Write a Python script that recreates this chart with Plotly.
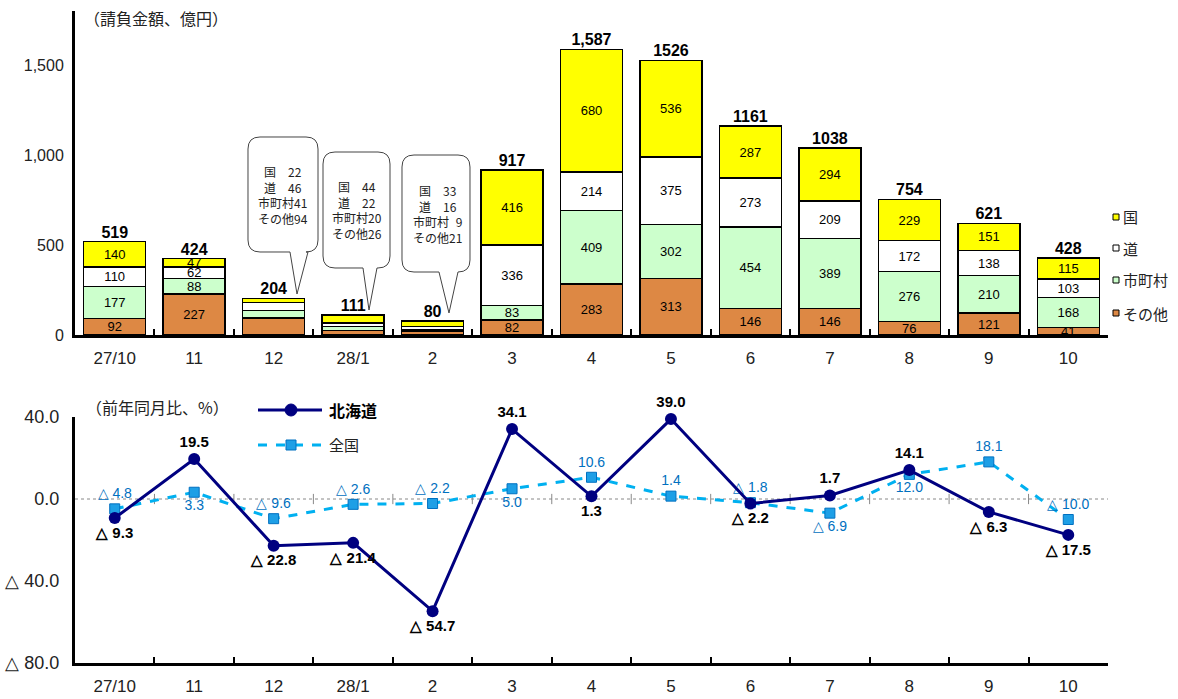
import plotly.graph_objects as go

# ---------------- data ----------------
months = ["27/10", "11", "12", "28/1", "2", "3", "4", "5", "6", "7", "8", "9", "10"]
sonota = [92, 227, 94, 26, 21, 82, 283, 313, 146, 146, 76, 121, 41]
shichoson = [177, 88, 41, 20, 9, 83, 409, 302, 454, 389, 276, 210, 168]
do_ = [110, 62, 46, 22, 16, 336, 214, 375, 273, 209, 172, 138, 103]
kuni = [140, 47, 22, 44, 33, 416, 680, 536, 287, 294, 229, 151, 115]
totals = [519, 424, 204, 111, 80, 917, 1587, 1526, 1161, 1038, 754, 621, 428]
total_labels = ["519", "424", "204", "111", "80", "917", "1,587", "1526", "1161",
                "1038", "754", "621", "428"]
callout_months = [2, 3, 4]  # small bars whose breakdown is shown in a callout

hokkaido = [-9.3, 19.5, -22.8, -21.4, -54.7, 34.1, 1.3, 39.0, -2.2, 1.7, 14.1, -6.3, -17.5]
zenkoku = [-4.8, 3.3, -9.6, -2.6, -2.2, 5.0, 10.6, 1.4, -1.8, -6.9, 12.0, 18.1, -10.0]
hk_pos = ["bottom center", "top center", "bottom center", "bottom center", "bottom center",
          "top center", "bottom center", "top center", "bottom center", "top center",
          "top center", "bottom center", "bottom center"]
zk_pos = ["top center", "bottom center", "top center", "top center", "top center",
          "bottom center", "top center", "top center", "top center", "bottom center",
          "bottom center", "top center", "top center"]

top_ticks = [0, 500, 1000, 1500]
top_ticktext = ["0", "500", "1,000", "1,500"]
bot_ticks = [40, 0, -40, -80]
bot_ticktext = ["40.0", "0.0", "△ 40.0", "△ 80.0"]

# ---------------- style ----------------
W, H = 1178, 699
PX_L, PX_R, PY_T, PY_B = 75, 1108, 11, 663
JP = "Noto Sans CJK JP"
NARROW = "Liberation Sans Narrow, Arial Narrow, Liberation Sans, sans-serif"
SANS = "Liberation Sans, Arial, sans-serif"
C_SONOTA, C_SHI, C_DO, C_KUNI = "#DD8844", "#CCFFCC", "#FFFFFF", "#FFFF00"
C_HK, C_ZK_LINE, C_ZK_MK, C_ZK_TXT = "#000080", "#00B0F0", "#1E9FE6", "#0070C0"


def fx(px):
    return (px - PX_L) / (PX_R - PX_L)


def fy(py):
    return (PY_B - py) / (PY_B - PY_T)


def seg_text(vals):
    return ["" if i in callout_months else str(v) for i, v in enumerate(vals)]


def fmt(v):
    return f"△ {abs(v):.1f}" if v < 0 else f"{v:.1f}"


fig = go.Figure()
for name, vals, col in [("その他", sonota, C_SONOTA), ("市町村", shichoson, C_SHI),
                        ("道", do_, C_DO), ("国", kuni, C_KUNI)]:
    fig.add_trace(go.Bar(
        x=months, y=vals, name=name, width=0.78,
        marker=dict(color=col, line=dict(color="black", width=1.5)),
        text=seg_text(vals), textposition="inside", insidetextanchor="middle",
        textangle=0, textfont=dict(size=13, color="black", family=SANS),
        xaxis="x", yaxis="y", showlegend=False, hoverinfo="skip"))

fig.add_trace(go.Scatter(
    x=months, y=totals, mode="text", text=total_labels, textposition="top center",
    textfont=dict(size=16, color="black", family=SANS, weight="bold"),
    xaxis="x", yaxis="y", showlegend=False, cliponaxis=False, hoverinfo="skip"))

fig.add_trace(go.Scatter(
    x=months, y=zenkoku, mode="lines+markers+text", name="全国",
    line=dict(color=C_ZK_LINE, width=3, dash="dash"),
    marker=dict(symbol="square", size=10, color=C_ZK_MK, line=dict(color=C_ZK_TXT, width=1)),
    text=[fmt(v) for v in zenkoku], textposition=zk_pos,
    textfont=dict(size=14, color=C_ZK_TXT, family=SANS),
    xaxis="x2", yaxis="y2", showlegend=False, cliponaxis=False, hoverinfo="skip"))

fig.add_trace(go.Scatter(
    x=months, y=hokkaido, mode="lines+markers+text", name="北海道",
    line=dict(color=C_HK, width=3),
    marker=dict(symbol="circle", size=12, color=C_HK),
    text=[fmt(v) for v in hokkaido], textposition=hk_pos,
    textfont=dict(size=15, color="black", family=NARROW, weight="bold"),
    xaxis="x2", yaxis="y2", showlegend=False, cliponaxis=False, hoverinfo="skip"))

axis_common = dict(showgrid=False, zeroline=False, showline=True, linecolor="black",
                   linewidth=3, automargin=False)
fig.update_layout(
    width=W, height=H, autosize=False,
    margin=dict(l=PX_L, r=W - PX_R, t=PY_T, b=H - PY_B, autoexpand=False),
    paper_bgcolor="white", plot_bgcolor="white",
    barmode="stack", bargap=0.22,
    uniformtext=dict(minsize=13, mode="show"),
    xaxis=dict(domain=[0, 1], type="category", categoryarray=months, anchor="y",
               range=[-0.5, 12.5], ticks="inside", tickson="boundaries", ticklen=6,
               tickwidth=2, tickcolor="black", ticklabelstandoff=6,
               tickfont=dict(family=NARROW, size=17, color="#222"), **axis_common),
    yaxis=dict(domain=[fy(335), 1], range=[0, 1800], anchor="x", tickvals=top_ticks,
               ticktext=top_ticktext, ticks="", ticklabelstandoff=5,
               tickfont=dict(family=SANS, size=16, color="#222"), **axis_common),
    xaxis2=dict(domain=[0, 1], type="category", categoryarray=months, anchor="y2",
                range=[-0.5, 12.5], ticks="inside", tickson="boundaries", ticklen=6,
                tickwidth=2, tickcolor="black", ticklabelstandoff=6,
                tickfont=dict(family=NARROW, size=17, color="#222"), **axis_common),
    yaxis2=dict(domain=[0, fy(417)], range=[-80, 40], anchor="x2", tickvals=bot_ticks,
                ticktext=bot_ticktext, ticks="", ticklabelstandoff=9,
                tickfont=dict(family=NARROW, size=18, color="#222"), **axis_common),
)

shapes = []
annotations = []

# zero line with category boundary ticks (bottom chart)
shapes.append(dict(type="line", xref="x2 domain", yref="y2", x0=0, x1=1, y0=0, y1=0,
                   line=dict(color="#888", width=1, dash="dot"), layer="below"))
for i in range(len(months) - 1):
    shapes.append(dict(type="line", xref="x2", yref="y2", x0=i + 0.5, x1=i + 0.5,
                       y0=-2.5, y1=2.5, line=dict(color="#888", width=1), layer="below"))

# axis titles
annotations.append(dict(text="（請負金額、億円）", xref="paper", yref="paper",
                        x=fx(82), y=fy(18), xanchor="left", yanchor="middle",
                        showarrow=False, font=dict(family=JP, size=16, color="#222")))
annotations.append(dict(text="（前年同月比、%）", xref="paper", yref="paper",
                        x=fx(84), y=fy(407), xanchor="left", yanchor="middle",
                        showarrow=False, font=dict(family=JP, size=16, color="#222")))


# callout bubbles
def bubble(L, R, T, B, x1, x2, tx, ty, r=12):
    pts = [("M", [(L + r, T)]), ("L", [(R - r, T)]), ("Q", [(R, T), (R, T + r)]),
           ("L", [(R, B - r)]), ("Q", [(R, B), (R - r, B)]), ("L", [(x2, B)]),
           ("L", [(tx, ty)]), ("L", [(x1, B)]), ("L", [(L + r, B)]),
           ("Q", [(L, B), (L, B - r)]), ("L", [(L, T + r)]), ("Q", [(L, T), (L + r, T)])]
    s = ""
    for cmd, ps in pts:
        s += cmd + " ".join(f"{fx(px):.5f},{fy(py):.5f}" for px, py in ps) + " "
    return s + "Z"


bubbles = [(248, 318, 137, 252, 290, 308, 297, 294, 283, 195),
           (323, 390, 152, 268, 363, 377, 369, 310, 357, 210),
           (402, 470, 155, 272, 439, 458, 449, 313, 437, 214)]
for (L, R, T, B, x1, x2, tx, ty, cx, cy), i in zip(bubbles, callout_months):
    shapes.append(dict(type="path", xref="paper", yref="paper",
                       path=bubble(L, R, T, B, x1, x2, tx, ty),
                       line=dict(color="#444", width=1), fillcolor="white"))
    txt = (f"国\u3000{kuni[i]:>2}<br>道\u3000{do_[i]:>2}<br>"
           f"市町村{shichoson[i]:>2}<br>その他{sonota[i]:>2}").replace(" ", "\u2007")
    annotations.append(dict(text=txt, xref="paper", yref="paper", x=fx(cx), y=fy(cy),
                            xanchor="center", yanchor="middle", showarrow=False,
                            align="center",
                            font=dict(family=JP, size=12, color="#222")))

# legend (top chart)
for name, col, py in [("国", C_KUNI, 217), ("道", C_DO, 248), ("市町村", C_SHI, 280),
                      ("その他", C_SONOTA, 313)]:
    shapes.append(dict(type="rect", xref="paper", yref="paper", x0=fx(1113), x1=fx(1119),
                       y0=fy(py + 3), y1=fy(py - 3), fillcolor=col,
                       line=dict(color="black", width=1)))
    annotations.append(dict(text=name, xref="paper", yref="paper", x=fx(1121), y=fy(py),
                            xanchor="left", yanchor="middle", showarrow=False,
                            font=dict(family=JP, size=15, color="#222")))

# legend (bottom chart)
shapes.append(dict(type="line", xref="paper", yref="paper", x0=fx(258), x1=fx(322),
                   y0=fy(410), y1=fy(410), line=dict(color=C_HK, width=3)))
shapes.append(dict(type="circle", xref="paper", yref="paper", x0=fx(285), x1=fx(297),
                   y0=fy(416), y1=fy(404), fillcolor=C_HK, line=dict(color=C_HK, width=1)))
shapes.append(dict(type="line", xref="paper", yref="paper", x0=fx(258), x1=fx(322),
                   y0=fy(445), y1=fy(445), line=dict(color=C_ZK_LINE, width=3, dash="dash")))
shapes.append(dict(type="rect", xref="paper", yref="paper", x0=fx(286), x1=fx(296),
                   y0=fy(450), y1=fy(440), fillcolor=C_ZK_MK,
                   line=dict(color=C_ZK_TXT, width=1)))
annotations.append(dict(text="<b>北海道</b>", xref="paper", yref="paper", x=fx(327),
                        y=fy(410), xanchor="left", yanchor="middle", showarrow=False,
                        font=dict(family=JP, size=16, color="black")))
annotations.append(dict(text="全国", xref="paper", yref="paper", x=fx(327), y=fy(445),
                        xanchor="left", yanchor="middle", showarrow=False,
                        font=dict(family=JP, size=15, color="#222")))

fig.update_layout(shapes=shapes, annotations=annotations)
fig.write_html("out.html", config={"displayModeBar": False},
               post_script="document.body.style.margin='0';"
                           "document.body.style.overflow='hidden';")
